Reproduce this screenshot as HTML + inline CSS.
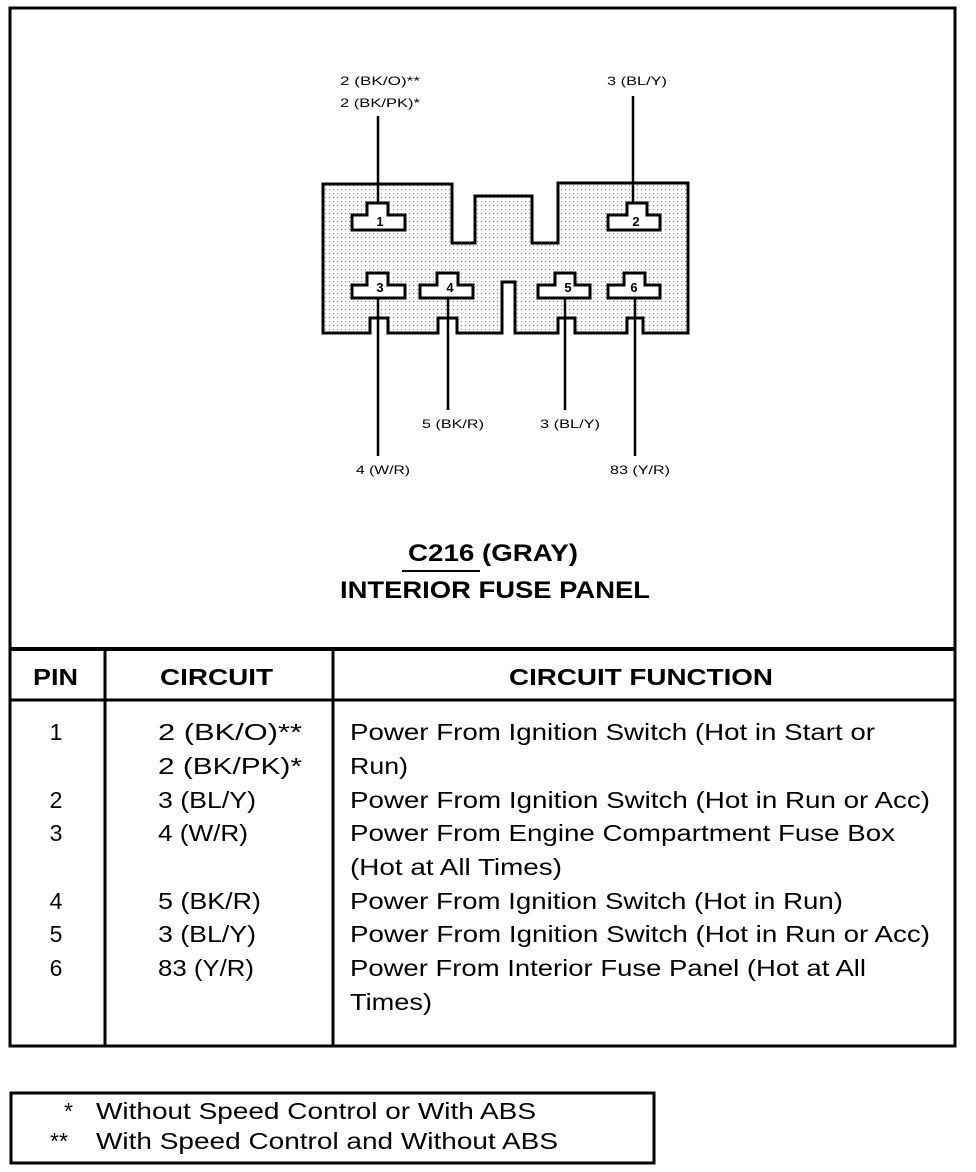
<!DOCTYPE html>
<html><head><style>
body{margin:0;background:#fff}
svg{display:block}
text{font-family:"Liberation Sans",Arial,sans-serif;fill:#000}
</style></head><body>
<svg width="976" height="1172" viewBox="0 0 976 1172" xmlns="http://www.w3.org/2000/svg">
<defs>
<pattern id="dots" width="4" height="4" patternUnits="userSpaceOnUse">
<rect width="4" height="4" fill="#fff"/><rect x="1" y="1" width="1" height="1" fill="#888"/>
</pattern>
</defs>
<rect x="10" y="8" width="945" height="1038" fill="none" stroke="#000" stroke-width="3"/>
<line x1="10" y1="649" x2="955" y2="649" stroke="#000" stroke-width="4"/>
<line x1="10" y1="700" x2="955" y2="700" stroke="#000" stroke-width="3"/>
<line x1="105" y1="649" x2="105" y2="1046" stroke="#000" stroke-width="3"/>
<line x1="333" y1="649" x2="333" y2="1046" stroke="#000" stroke-width="3"/>

<path d="M323,184 H452 V243 H475 V196 H532 V243 H558 V183 H688 V333 H643 V318 H627 V333 H575 V318 H558 V333 H515 V282 H502 V333 H457 V318 H438 V333 H388 V318 H370 V333 H323 Z" fill="url(#dots)" stroke="#000" stroke-width="3"/>
<g fill="#fff" stroke="#000" stroke-width="3">
<path d="M367,203 H388 V215 H405 V230 H352 V215 H367 Z"/>
<path d="M627,203 H647 V215 H660 V230 H608 V215 H627 Z"/>
<path d="M367,273 H388 V285 H405 V298 H352 V285 H367 Z"/>
<path d="M437,273 H458 V285 H473 V298 H420 V285 H437 Z"/>
<path d="M555,273 H575 V285 H590 V298 H538 V285 H555 Z"/>
<path d="M624,273 H645 V285 H660 V298 H608 V285 H624 Z"/>
</g>
<g font-size="13" font-weight="bold" text-anchor="middle">
<text x="380" y="226">1</text><text x="636" y="226">2</text>
<text x="380" y="292">3</text><text x="450" y="292">4</text>
<text x="568" y="292">5</text><text x="634" y="292">6</text>
</g>
<g stroke="#000" stroke-width="2.5">
<line x1="378" y1="116" x2="378" y2="203"/>
<line x1="633" y1="96" x2="633" y2="203"/>
<line x1="378" y1="298" x2="378" y2="456"/>
<line x1="448" y1="298" x2="448" y2="410"/>
<line x1="565" y1="298" x2="565" y2="410"/>
<line x1="635" y1="298" x2="635" y2="456"/>
</g>
<g font-size="12" lengthAdjust="spacingAndGlyphs">
<text x="340" y="85" textLength="80" lengthAdjust="spacingAndGlyphs">2 (BK/O)**</text>
<text x="340" y="107" textLength="80" lengthAdjust="spacingAndGlyphs">2 (BK/PK)*</text>
<text x="607" y="85" textLength="60" lengthAdjust="spacingAndGlyphs">3 (BL/Y)</text>
<text x="422" y="428" textLength="62" lengthAdjust="spacingAndGlyphs">5 (BK/R)</text>
<text x="540" y="428" textLength="60" lengthAdjust="spacingAndGlyphs">3 (BL/Y)</text>
<text x="356" y="474" textLength="54" lengthAdjust="spacingAndGlyphs">4 (W/R)</text>
<text x="610" y="474" textLength="60" lengthAdjust="spacingAndGlyphs">83 (Y/R)</text>
</g>
<g font-size="24" font-weight="bold">
<text x="408" y="561" textLength="170" lengthAdjust="spacingAndGlyphs">C216 (GRAY)</text>
<text x="340" y="598" textLength="310" lengthAdjust="spacingAndGlyphs">INTERIOR FUSE PANEL</text>
</g>
<line x1="402" y1="571" x2="480" y2="571" stroke="#000" stroke-width="2"/>
<g font-size="23" font-weight="bold">
<text x="33" y="685" textLength="45" lengthAdjust="spacingAndGlyphs">PIN</text>
<text x="160" y="685" textLength="113" lengthAdjust="spacingAndGlyphs">CIRCUIT</text>
<text x="509" y="685" textLength="264" lengthAdjust="spacingAndGlyphs">CIRCUIT FUNCTION</text>
</g>
<g font-size="23">
<g text-anchor="middle">
<text x="56" y="740">1</text><text x="56" y="808">2</text><text x="56" y="841">3</text>
<text x="56" y="909">4</text><text x="56" y="942">5</text><text x="56" y="976">6</text>
</g>
<text x="158" y="740" textLength="144" lengthAdjust="spacingAndGlyphs">2 (BK/O)**</text>
<text x="158" y="774" textLength="144" lengthAdjust="spacingAndGlyphs">2 (BK/PK)*</text>
<text x="158" y="808" textLength="98" lengthAdjust="spacingAndGlyphs">3 (BL/Y)</text>
<text x="158" y="841" textLength="90" lengthAdjust="spacingAndGlyphs">4 (W/R)</text>
<text x="158" y="909" textLength="103" lengthAdjust="spacingAndGlyphs">5 (BK/R)</text>
<text x="158" y="942" textLength="98" lengthAdjust="spacingAndGlyphs">3 (BL/Y)</text>
<text x="158" y="976" textLength="96" lengthAdjust="spacingAndGlyphs">83 (Y/R)</text>
<text x="350" y="740" textLength="525" lengthAdjust="spacingAndGlyphs">Power From Ignition Switch (Hot in Start or</text>
<text x="350" y="774" textLength="58" lengthAdjust="spacingAndGlyphs">Run)</text>
<text x="350" y="808" textLength="580" lengthAdjust="spacingAndGlyphs">Power From Ignition Switch (Hot in Run or Acc)</text>
<text x="350" y="841" textLength="545" lengthAdjust="spacingAndGlyphs">Power From Engine Compartment Fuse Box</text>
<text x="350" y="875" textLength="212" lengthAdjust="spacingAndGlyphs">(Hot at All Times)</text>
<text x="350" y="909" textLength="493" lengthAdjust="spacingAndGlyphs">Power From Ignition Switch (Hot in Run)</text>
<text x="350" y="942" textLength="580" lengthAdjust="spacingAndGlyphs">Power From Ignition Switch (Hot in Run or Acc)</text>
<text x="350" y="976" textLength="516" lengthAdjust="spacingAndGlyphs">Power From Interior Fuse Panel (Hot at All</text>
<text x="350" y="1010" textLength="82" lengthAdjust="spacingAndGlyphs">Times)</text>
</g>
<rect x="11" y="1093" width="643" height="70" fill="none" stroke="#000" stroke-width="3"/>
<g font-size="23">
<text x="64" y="1119">*</text>
<text x="96" y="1119" textLength="440" lengthAdjust="spacingAndGlyphs">Without Speed Control or With ABS</text>
<text x="50" y="1149">**</text>
<text x="96" y="1149" textLength="462" lengthAdjust="spacingAndGlyphs">With Speed Control and Without ABS</text>
</g>
</svg>
</body></html>
